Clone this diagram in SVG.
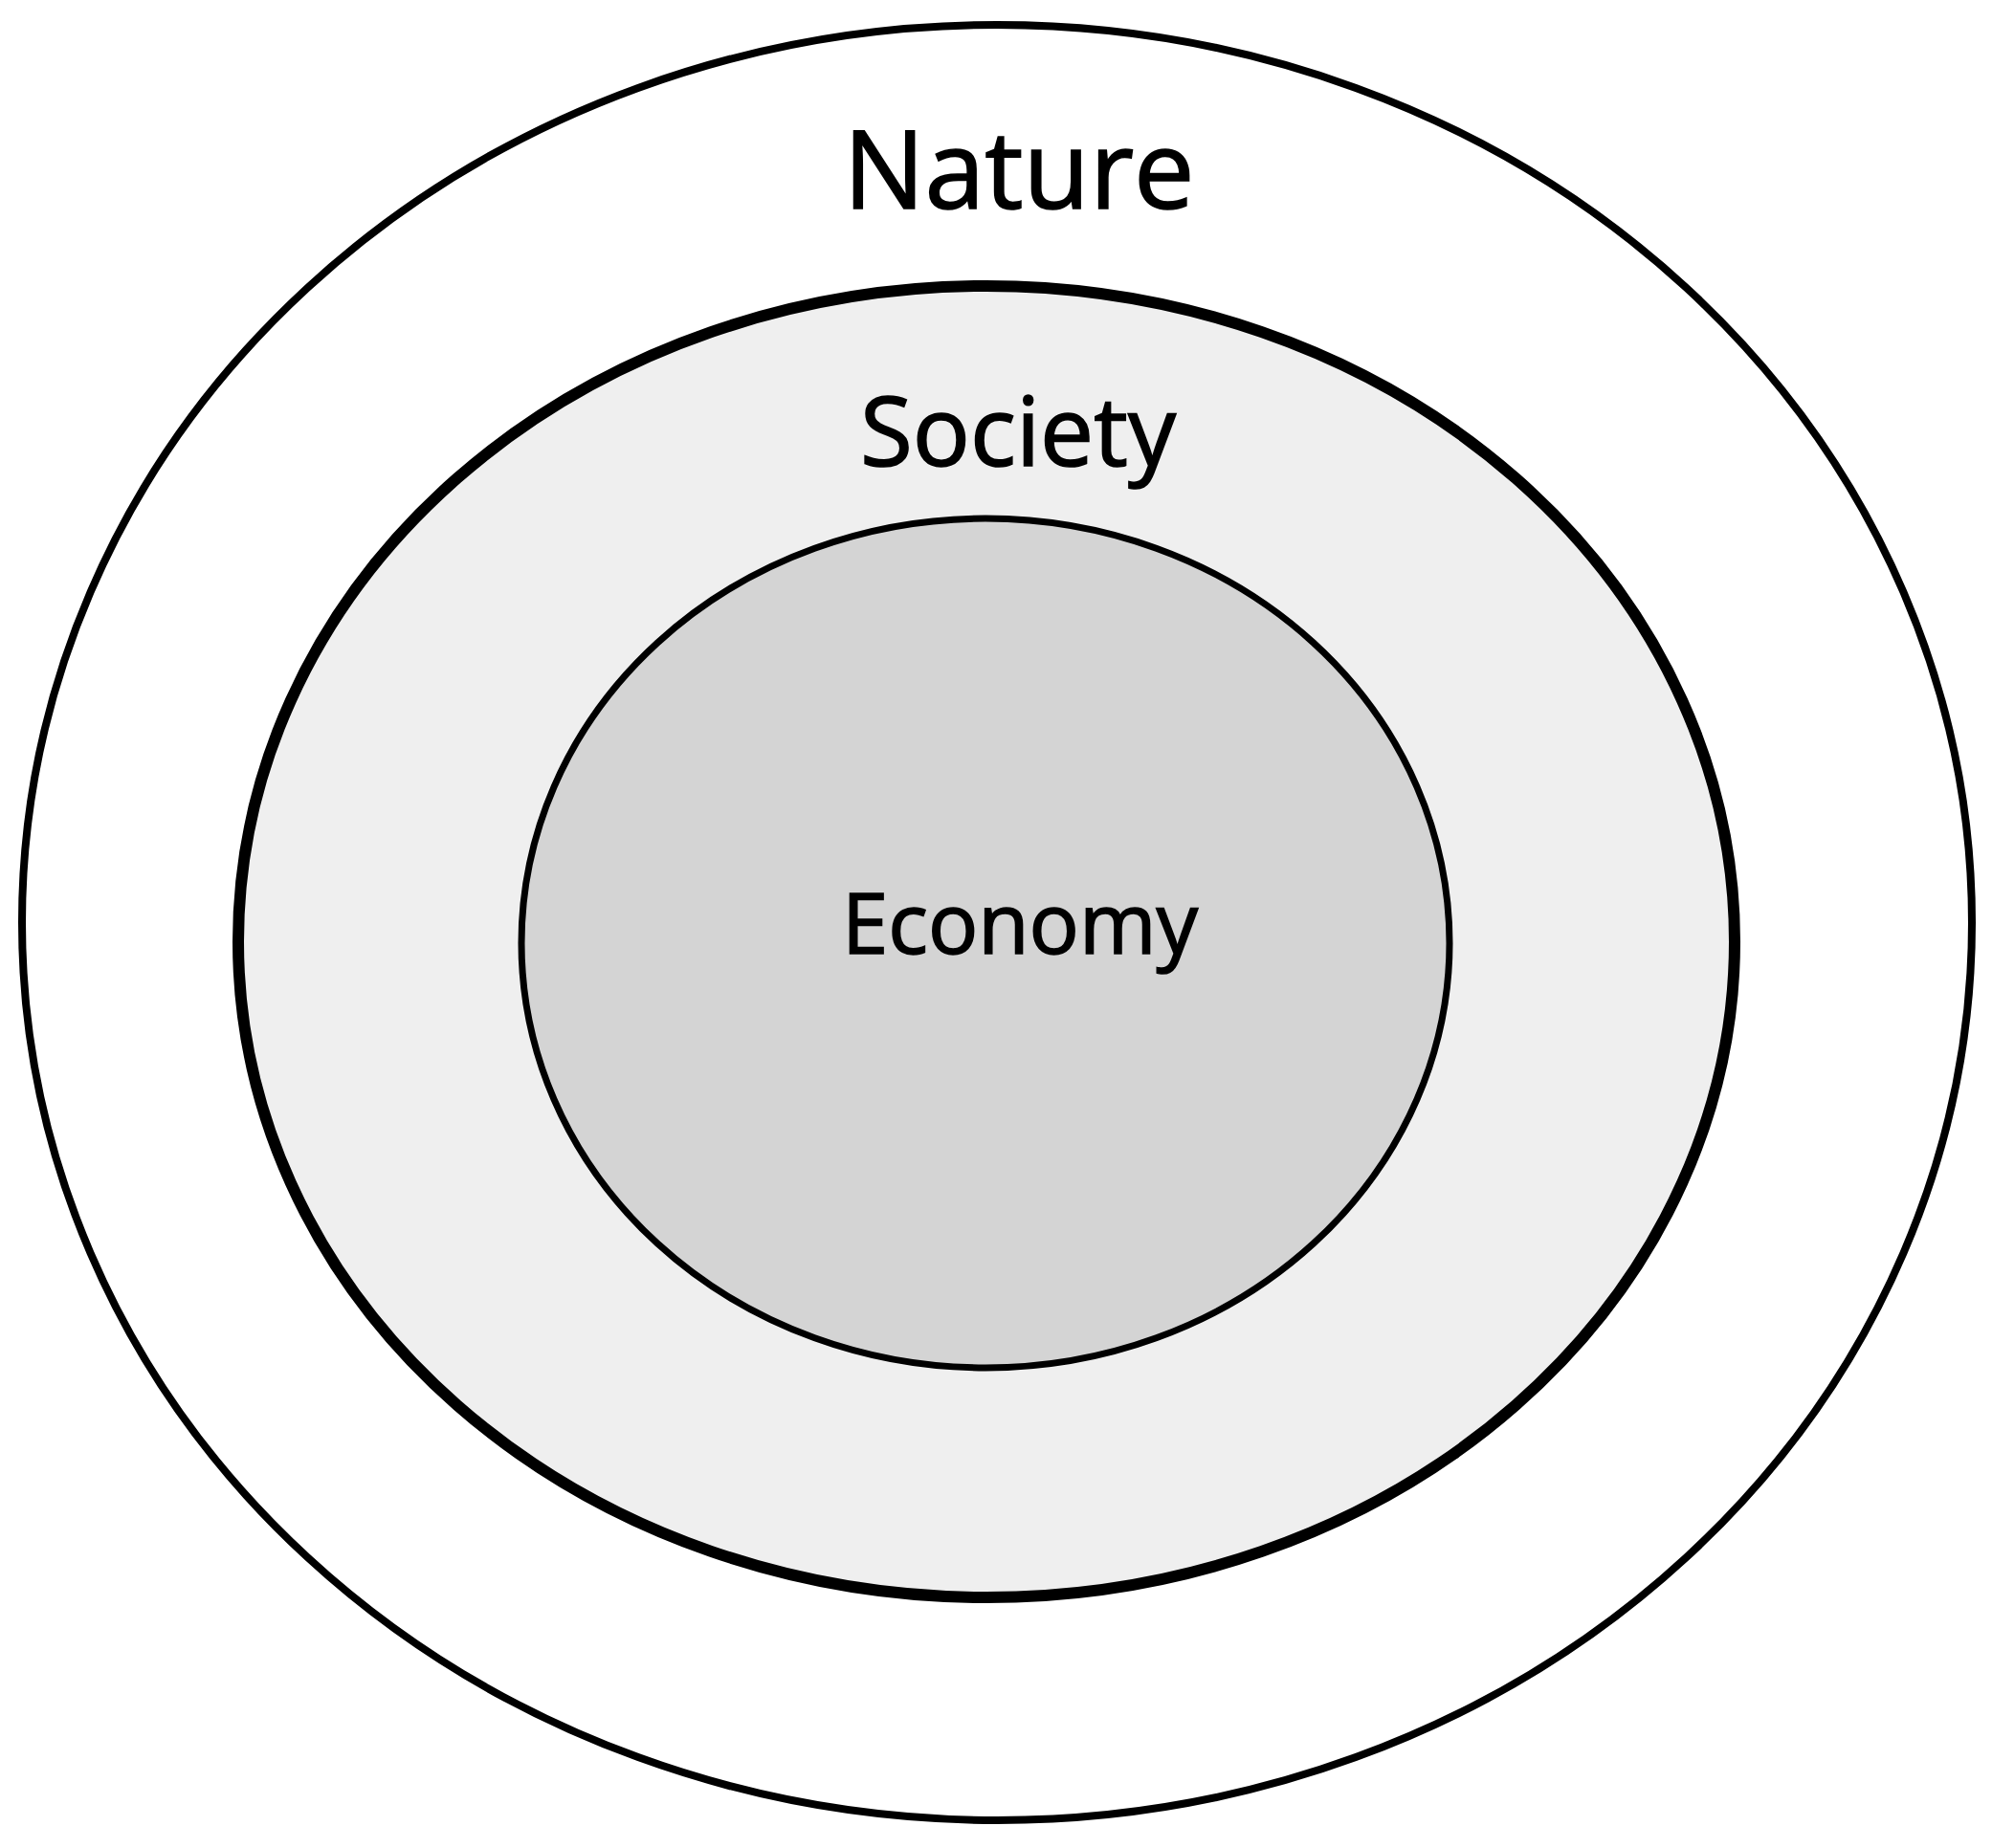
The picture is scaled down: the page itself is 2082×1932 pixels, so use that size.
<svg xmlns="http://www.w3.org/2000/svg" width="2082" height="1932" viewBox="0 0 2082 1932">
<style>
.lbl{font-family:"Open Sans","Noto Sans","Liberation Sans",sans-serif;fill:#000;stroke:#000;stroke-width:1.6;text-anchor:middle}
</style>
<rect width="2082" height="1932" fill="#fff"/>
<g id="nature">
<ellipse cx="1042" cy="964.5" rx="1019" ry="938.5" fill="#fff" stroke="#000" stroke-width="8"/>
<text class="lbl" x="1065" y="218" font-size="113">Nature</text>
</g>
<g id="society">
<ellipse cx="1031" cy="984.5" rx="782" ry="685.5" fill="#efefef" stroke="#000" stroke-width="12"/>
<text class="lbl" x="1064" y="487" font-size="100">Society</text>
</g>
<g id="economy">
<ellipse cx="1030" cy="986" rx="485" ry="444" fill="#d4d4d4" stroke="#000" stroke-width="7"/>
<text class="lbl" x="1066" y="997" font-size="87">Economy</text>
</g>
<g id="connectors"/>
</svg>
